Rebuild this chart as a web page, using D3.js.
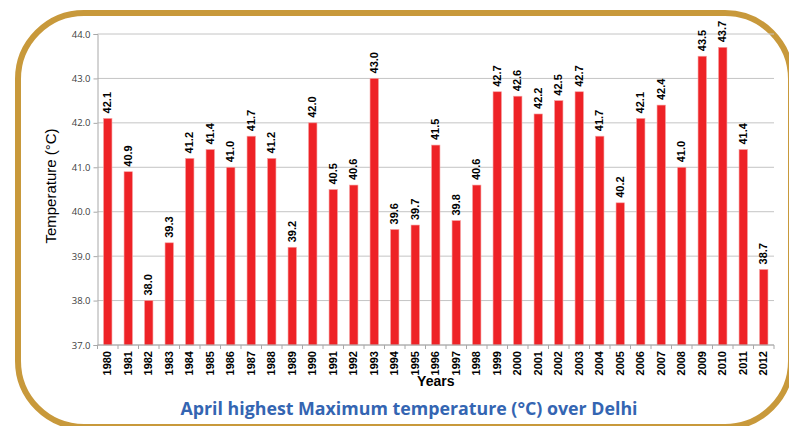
<!DOCTYPE html>
<html lang="en">
<head>
    <meta charset="UTF-8">
    <title>April highest Maximum temperature over Delhi</title>
    <style>
        body { margin: 0; background: #fff; }
        svg { display: block; }
    </style>
</head>
<body>
<script src="https://cdn.jsdelivr.net/npm/d3@7"></script>
<script>
    // data
    const years = ["1980","1981","1982","1983","1984","1985","1986","1987","1988","1989","1990",
        "1991","1992","1993","1994","1995","1996","1997","1998","1999","2000","2001","2002",
        "2003","2004","2005","2006","2007","2008","2009","2010","2011","2012"];
    const temps = [42.1,40.9,38.0,39.3,41.2,41.4,41.0,41.7,41.2,39.2,42.0,
        40.5,40.6,43.0,39.6,39.7,41.5,39.8,40.6,42.7,42.6,42.2,42.5,
        42.7,41.7,40.2,42.1,42.4,41.0,43.5,43.7,41.4,38.7];
    const yTicks = [37,38,39,40,41,42,43,44];

    const data = years.map((y, i) => ({year: y, value: temps[i]}));

    var W = 789, H = 426;
    var margin = {top: 34, right: 15, bottom: 81, left: 97.5},
        width = 774 - margin.left,
        height = 345 - margin.top;

    var svg = d3.select("body").append("svg")
        .attr("width", W)
        .attr("height", H);

    // rounded frame
    svg.append("rect")
        .attr("x", 18).attr("y", 13)
        .attr("width", 773).attr("height", 414)
        .attr("rx", 66).attr("ry", 66)
        .attr("fill", "none")
        .attr("stroke", "#c8993b")
        .attr("stroke-width", 6);

    var g = svg.append("g")
        .attr("transform", "translate(" + margin.left + "," + margin.top + ")");

    var xScale = d3.scaleBand().range([0, width]).domain(years).paddingInner(0.59).paddingOuter(0.295);
    var yScale = d3.scaleLinear().range([height, 0]).domain([37, 44]);

    // gridlines
    g.append("g")
        .selectAll("line")
        .data(yTicks)
        .join("line")
            .attr("x1", 0).attr("x2", width)
            .attr("y1", d => yScale(d)).attr("y2", d => yScale(d))
            .attr("stroke", "#c4c4c4")
            .attr("stroke-width", 1);

    // y axis
    var yAxis = d3.axisLeft(yScale).tickValues(yTicks).tickFormat(d3.format(".1f")).tickSize(4).tickPadding(3);
    var yg = g.append("g").call(yAxis);
    yg.select(".domain").attr("stroke", "#a8a8a8");
    yg.selectAll(".tick line").attr("stroke", "#a8a8a8");
    yg.selectAll("text")
        .attr("fill", "#404040")
        .style("font-family", "'Open Sans', 'DejaVu Sans', sans-serif")
        .style("font-size", "9.5px");

    // bars
    g.append("g")
        .selectAll("rect")
        .data(data)
        .join("rect")
            .attr("x", d => xScale(d.year))
            .attr("y", d => yScale(d.value))
            .attr("width", xScale.bandwidth())
            .attr("height", d => yScale(37) - yScale(d.value))
            .attr("fill", "#ee2226")
            .attr("stroke", "#f6a0a0")
            .attr("stroke-width", 0.6);

    // x axis
    var step = xScale.step();
    var xg = g.append("g").attr("transform", `translate(0,${height})`);
    xg.append("line")
        .attr("x1", 0).attr("x2", width)
        .attr("stroke", "#a8a8a8");
    xg.selectAll("line.tk")
        .data(d3.range(years.length + 1))
        .join("line")
            .attr("class", "tk")
            .attr("x1", i => i * step).attr("x2", i => i * step)
            .attr("y1", 0).attr("y2", 4)
            .attr("stroke", "#a8a8a8");
    xg.selectAll("text")
        .data(years)
        .join("text")
            .attr("transform", d => `translate(${xScale(d) + xScale.bandwidth() / 2 + 3.5},6) rotate(-90)`)
            .attr("text-anchor", "end")
            .style("font-family", "'Liberation Sans Narrow', 'Arial Narrow', 'Liberation Sans', sans-serif")
            .style("font-weight", "bold")
            .style("font-size", "11px")
            .attr("fill", "#000")
            .text(d => d);

    // value labels
    g.append("g")
        .selectAll("text")
        .data(data)
        .join("text")
            .attr("transform", d => `translate(${xScale(d.year) + xScale.bandwidth() / 2 + 3.5},${yScale(d.value) - 5}) rotate(-90)`)
            .attr("text-anchor", "start")
            .style("font-family", "'Liberation Sans Narrow', 'Arial Narrow', 'Liberation Sans', sans-serif")
            .style("font-weight", "bold")
            .style("font-size", "11px")
            .attr("fill", "#000")
            .text(d => d.value.toFixed(1));

    // axis titles
    svg.append("text")
        .attr("x", margin.left + width / 2)
        .attr("y", 386)
        .attr("text-anchor", "middle")
        .style("font-family", "'Liberation Sans', Arial, sans-serif")
        .style("font-weight", "bold")
        .style("font-size", "14px")
        .text("Years");

    svg.append("text")
        .attr("transform", "translate(56,186) rotate(-90)")
        .attr("text-anchor", "middle")
        .style("font-family", "'Liberation Sans', Arial, sans-serif")
        .style("font-size", "15px")
        .text("Temperature (°C)");

    // caption
    svg.append("text")
        .attr("x", 409)
        .attr("y", 415)
        .attr("text-anchor", "middle")
        .attr("fill", "#3465b2")
        .style("font-family", "'Open Sans', sans-serif")
        .style("font-weight", "bold")
        .style("font-size", "17.8px")
        .text("April highest Maximum temperature (°C) over Delhi");
</script>
</body>
</html>
